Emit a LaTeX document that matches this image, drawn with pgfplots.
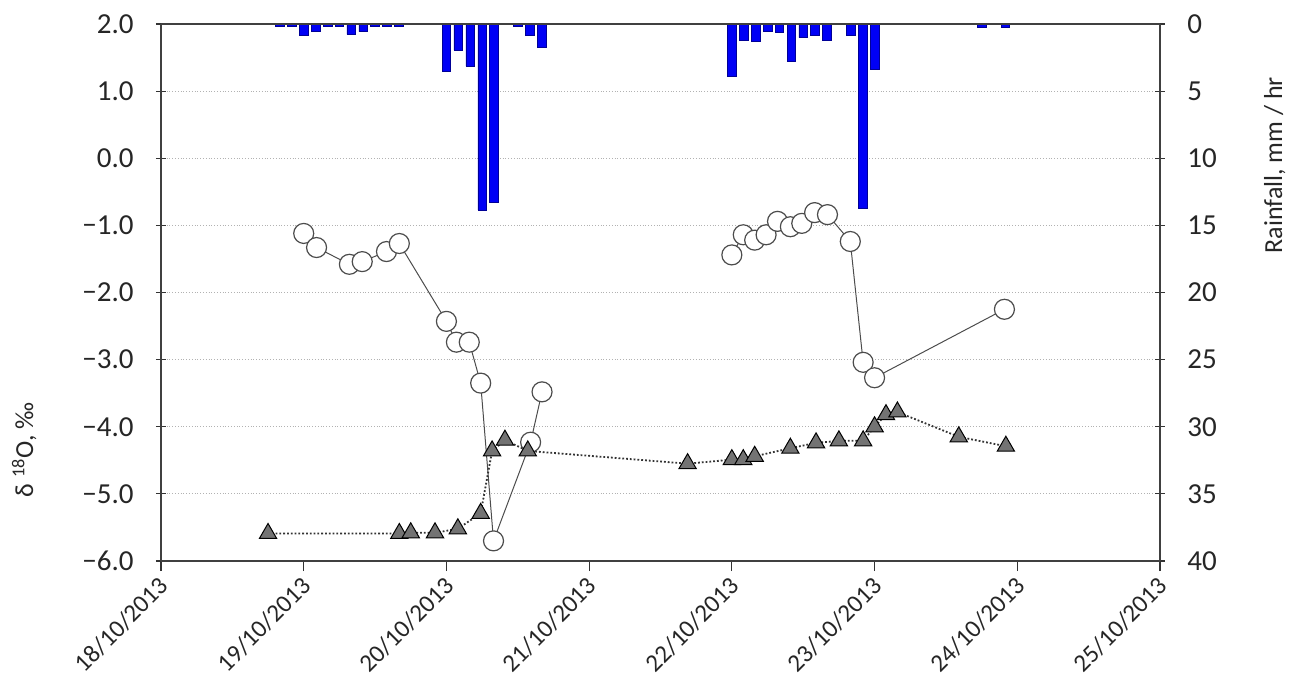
\documentclass[border=0pt]{standalone}
\usepackage{fontspec}
\setmainfont{Carlito}
\usepackage{pgfplots}
\pgfplotsset{compat=1.18}
\begin{document}
\begin{tikzpicture}
\useasboundingbox (-80.5pt,-59.5pt) rectangle (568pt,280.5pt);
\pgfplotsset{
  common/.style={scale only axis, width=499.5pt, height=268.5pt, xmin=0, xmax=7,
    axis line style={draw=black!75, line width=0.7pt},
    tick style={draw=black!80, line width=0.6pt},
    tick align=center, major tick length=5pt,
    label style={font=\fontsize{13}{15}\selectfont, text=black!85},
  }
}
% rainfall axis (right)
\begin{axis}[common, ymin=0, ymax=40, y dir=reverse,
  axis x line=none, axis y line*=right,
  ytick={0,5,10,15,20,25,30,35,40},
  yticklabels={0,5,10,15,20,25,30,35,40},
  yticklabel style={font=\fontsize{14.5}{17}\selectfont, text=black!85, inner xsep=11pt},
  ymajorgrids, major grid style={densely dotted, black!30, line width=0.5pt},
  ylabel={Rainfall, mm / hr},
  ylabel style={at={(axis description cs:1.115,0.737)}, anchor=center},
]
\addplot[ybar, bar width=0.06, bar shift=0pt, fill={rgb,255:red,0;green,0;blue,245}, draw={rgb,255:red,0;green,0;blue,150}, line width=0.3pt] coordinates {
(0.833,0.2) (0.917,0.2) (1.0,0.87) (1.083,0.57) (1.167,0.15) (1.25,0.15)
(1.333,0.77) (1.417,0.57) (1.5,0.2) (1.583,0.2) (1.667,0.2)
(2.0,3.55) (2.083,1.94) (2.167,3.13) (2.25,13.85) (2.333,13.28)
(2.5,0.2) (2.583,0.82) (2.667,1.76)
(4.0,3.87) (4.083,1.19) (4.167,1.31) (4.25,0.52) (4.333,0.65) (4.417,2.75)
(4.5,1.02) (4.583,0.87) (4.667,1.19) (4.75,0.05) (4.833,0.87) (4.917,13.7)
(5.0,3.37) (5.75,0.25) (5.917,0.25)
};
\end{axis}
% isotope axis (left)
\begin{axis}[common, ymin=-6, ymax=2,
  axis y line*=left,
  xtick={0,1,2,3,4,5,6,7},
  xticklabels={18/10/2013,19/10/2013,20/10/2013,21/10/2013,22/10/2013,23/10/2013,24/10/2013,25/10/2013},
  xtick pos=left, xtick align=outside,
  xticklabel style={font=\fontsize{12.5}{15}\selectfont, text=black!85, xshift=4pt, rotate=45, anchor=east},
  xticklabel shift=3pt,
  ytick={-6,-5,-4,-3,-2,-1,0,1,2},
  yticklabels={−6.0,−5.0,−4.0,−3.0,−2.0,−1.0,0.0,1.0,2.0},
  yticklabel style={font=\fontsize{14.5}{17}\selectfont, text=black!85, inner xsep=11pt},
  ylabel={δ \textsuperscript{18}O, ‰},
  ylabel style={at={(axis description cs:-0.137,0.207)}, anchor=center},
]
\addplot[black!70, line width=0.5pt, mark=*, mark size=5pt, mark options={fill=white, draw=black!70, line width=0.6pt}] coordinates {
(1.00,-1.12) (1.09,-1.33) (1.32,-1.58) (1.41,-1.54) (1.58,-1.39) (1.67,-1.27)
(2.00,-2.43) (2.07,-2.74) (2.16,-2.74) (2.24,-3.35) (2.33,-5.70) (2.59,-4.23) (2.67,-3.48)
};
\addplot[black!70, line width=0.5pt, mark=*, mark size=5pt, mark options={fill=white, draw=black!70, line width=0.6pt}] coordinates {
(4.00,-1.44) (4.08,-1.14) (4.16,-1.22) (4.24,-1.14) (4.32,-0.94) (4.41,-1.02)
(4.49,-0.97) (4.58,-0.81) (4.67,-0.84) (4.83,-1.24) (4.92,-3.04) (5.00,-3.27) (5.91,-2.25)
};
\addplot[black!80, densely dotted, line width=0.9pt, mark=triangle*, mark size=5pt, mark options={solid, fill=black!55, draw=black, line width=0.5pt}] coordinates {
(0.75,-5.59) (1.67,-5.59) (1.75,-5.58) (1.92,-5.58) (2.08,-5.52) (2.24,-5.29)
(2.32,-4.36) (2.41,-4.20) (2.57,-4.36) (3.69,-4.55) (4.00,-4.49) (4.08,-4.49)
(4.16,-4.44) (4.41,-4.32) (4.59,-4.24) (4.75,-4.21) (4.92,-4.21) (5.00,-4.00)
(5.08,-3.82) (5.16,-3.78) (5.59,-4.15) (5.92,-4.29)
};
\end{axis}
\end{tikzpicture}
\end{document}
